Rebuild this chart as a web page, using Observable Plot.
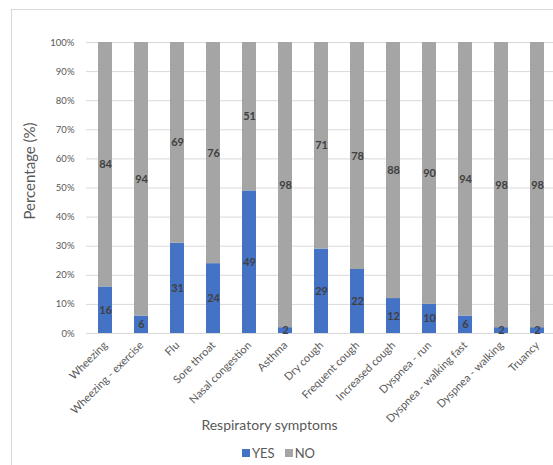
<!DOCTYPE html>
<html>
<head>
<meta charset="utf-8">
<script src="https://cdn.jsdelivr.net/npm/d3@7"></script>
<script src="https://cdn.jsdelivr.net/npm/@observablehq/plot@0.6"></script>
<style>
  html, body { margin: 0; padding: 0; background: #fff; overflow: hidden; }
  #wrap { position: relative; width: 553px; height: 465px; font-family: Lato, "Open Sans", sans-serif; }
  #frame { position: absolute; left: 11px; top: 9px; width: 560px; height: 470px; border-left: 1px solid #d9d9d9; border-top: 1px solid #d9d9d9; }
  #chart { position: absolute; left: 0; top: 0; }
  #legend { position: absolute; top: 445px; left: 242px; font-size: 13px; color: #595959; display: flex; align-items: center; white-space: nowrap; }
  #legend .sw { display: inline-block; width: 8px; height: 8px; margin-right: 2px; }
  #legend .it { display: flex; align-items: center; margin-right: 10px; }
</style>
</head>
<body>
<div id="wrap">
  <div id="frame"></div>
  <div id="chart"></div>
  <div id="legend"></div>
</div>
<script>
const symptoms = ["Wheezing", "Wheezing - exercise", "Flu", "Sore throat", "Nasal congestion", "Asthma", "Dry cough", "Frequent cough", "Increased cough", "Dyspnea - run", "Dyspnea - walking fast", "Dyspnea - walking", "Truancy"];
const yesValues = [16, 6, 31, 24, 49, 2, 29, 22, 12, 10, 6, 2, 2];
const noValues = [84, 94, 69, 76, 51, 98, 71, 78, 88, 90, 94, 98, 98];
const answers = ["YES", "NO"];
const colors = ["#4472C4", "#A5A5A5"];
const yTicks = [0, 0.1, 0.2, 0.3, 0.4, 0.5, 0.6, 0.7, 0.8, 0.9, 1];
const xTitle = "Respiratory symptoms";
const yTitle = "Percentage (%)";

const rows = [];
symptoms.forEach((s, i) => {
  rows.push({symptom: s, answer: "YES", value: yesValues[i]});
  rows.push({symptom: s, answer: "NO", value: noValues[i]});
});

const stackOpts = {x: "symptom", y: "value", z: "answer", offset: "normalize", order: answers};

const chart = Plot.plot({
  width: 553,
  height: 465,
  marginLeft: 86,
  marginRight: -4,
  marginTop: 42,
  marginBottom: 132,
  style: {fontFamily: "Lato, 'Open Sans', sans-serif", background: "transparent"},
  x: {domain: symptoms, paddingInner: 0.61, paddingOuter: 0.305, label: null},
  y: {domain: [0, 1], label: null},
  color: {domain: answers, range: colors},
  marks: [
    Plot.gridY(yTicks, {stroke: "#d9d9d9", strokeOpacity: 1, strokeWidth: 1}),
    Plot.barY(rows, Plot.stackY({...stackOpts, fill: "answer"})),
    Plot.text(rows, Plot.stackY({...stackOpts, text: d => String(d.value), fill: "#404040", fontWeight: "bold", fontSize: 11})),
    Plot.axisY(yTicks, {tickSize: 0, tickPadding: 12, tickFormat: d3.format(".0%"), fontSize: 9.5, color: "#595959", label: null}),
    Plot.axisX({tickSize: 0, tickRotate: -45, tickPadding: 10, fontSize: 11, color: "#595959", label: null}),
    Plot.text([yTitle], {frameAnchor: "left", textAnchor: "middle", dx: -56, dy: -17, rotate: -90, fontSize: 15, fill: "#595959"}),
    Plot.text([xTitle], {frameAnchor: "bottom-left", textAnchor: "middle", dx: 183, dy: 96, fontSize: 14, fill: "#595959"})
  ]
});
document.getElementById("chart").appendChild(chart);

const legend = document.getElementById("legend");
answers.forEach((a, i) => {
  const it = document.createElement("span");
  it.className = "it";
  const sw = document.createElement("span");
  sw.className = "sw";
  sw.style.background = colors[i];
  it.appendChild(sw);
  it.appendChild(document.createTextNode(a));
  legend.appendChild(it);
});
</script>
</body>
</html>
